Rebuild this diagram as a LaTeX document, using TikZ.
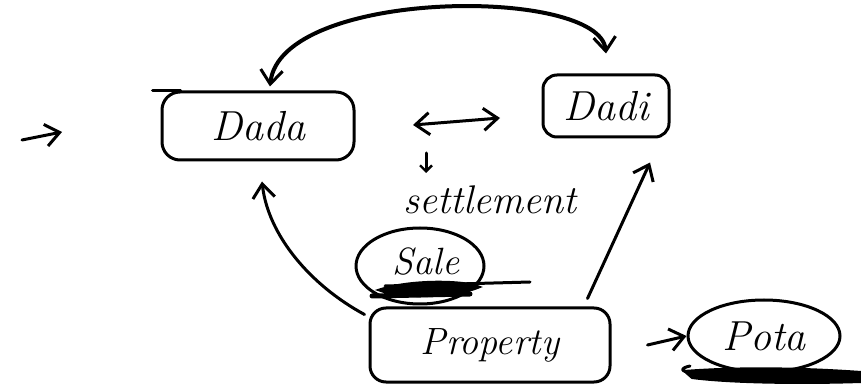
\documentclass[tikz,border=0pt]{standalone}
\usetikzlibrary{arrows.meta,shapes.geometric}
\begin{document}
\begin{tikzpicture}[x=0.5pt,y=-0.5pt,
  ink/.style={line width=1.5pt, line cap=round, line join=round},
  hand/.style={font=\fontsize{21}{24}\selectfont\itshape},
  boxnode/.style={ink, draw, rounded corners=9pt, inner sep=0pt, hand},
  barb/.tip={Straight Barb[length=7pt,width=11pt,line width=1.5pt]},
  tip/.style={ink, -barb},
  bitip/.style={ink, barb-barb},
  scribble/.style={fill=black, line width=1pt, draw}
]
\useasboundingbox (0,0) rectangle (861,389);

% family members and the property
\node[boxnode, minimum width=96pt, minimum height=34pt] (dada) at (258,126) {Dada};
\node[boxnode, rounded corners=7pt, minimum width=63pt, minimum height=31pt] (dadi) at (606,106) {Dadi};
\node[boxnode, rounded corners=8pt, minimum width=120pt, minimum height=37pt, font=\fontsize{19}{22}\selectfont\itshape] (property) at (490,345) {Property};
\node[ink, draw, ellipse, inner sep=0pt, minimum width=76pt, minimum height=36pt, hand] (pota) at (764,336) {Pota};

% notes between the boxes
\node[hand, font=\fontsize{20}{23}\selectfont\itshape] (settle) at (490,200) {settlement};
\node[ink, draw, ellipse, inner sep=0pt, minimum width=64pt, minimum height=38pt] (sale) at (420,266) {};
\node[font=\fontsize{19}{22}\selectfont\itshape] (saletext) at (426,262) {Sale};

% top edge of the Dada box drawn a little past its corner
\draw[ink] ([xshift=-4pt]dada.north west) -- ([xshift=10pt]dada.north west);

% entry arrow on the left
\coordinate (inA) at (22,140);
\coordinate (inB) at (62,132);
\draw[tip] (inA) -- (inB);

% link between Dada and Dadi
\coordinate (linkA) at (413,125);
\coordinate (linkB) at (500,118);
\draw[bitip] (linkA) -- (linkB);

% small downward mark above "settlement"
\coordinate (markA) at (426,153);
\coordinate (markB) at (426,173);
\draw[ink, -{Straight Barb[length=3pt,width=6pt,line width=1.2pt]}] (markA) -- (markB);

% arc over the top between the two grandparents
\draw[bitip, line width=2pt] ([xshift=6pt,yshift=2pt]dada.north) .. controls (280,-12) and (600,-14) .. ([yshift=10pt]dadi.north);

% property shares flowing up and out
\draw[tip] ([xshift=-2pt,yshift=-4pt]property.north west) .. controls (310,285) and (268,235) .. ([xshift=2pt,yshift=-10pt]dada.south);
\draw[tip] ([xshift=-12pt,yshift=4pt]property.north east) -- ([xshift=22pt,yshift=-12pt]dadi.south);
\draw[tip] ([xshift=18pt]property.east) -- (pota.west);

% heavy strokes under the sale note
\draw[scribble] (378,290) .. controls (410,279) and (465,280) .. (480,287) .. controls (455,298) and (400,299) .. (378,290) -- cycle;
\draw[ink] (385,286) -- (530,282);
\draw[ink, line width=2.5pt] (372,296) -- (470,294);

% heavy strokes under Pota
\draw[scribble] (684,371) .. controls (750,366) and (820,369) .. (861,372) -- (861,382) .. controls (800,384) and (730,383) .. (692,378) -- cycle;
\draw[ink] (690,366) .. controls (680,368) and (680,372) .. (692,372);
\end{tikzpicture}
\end{document}
